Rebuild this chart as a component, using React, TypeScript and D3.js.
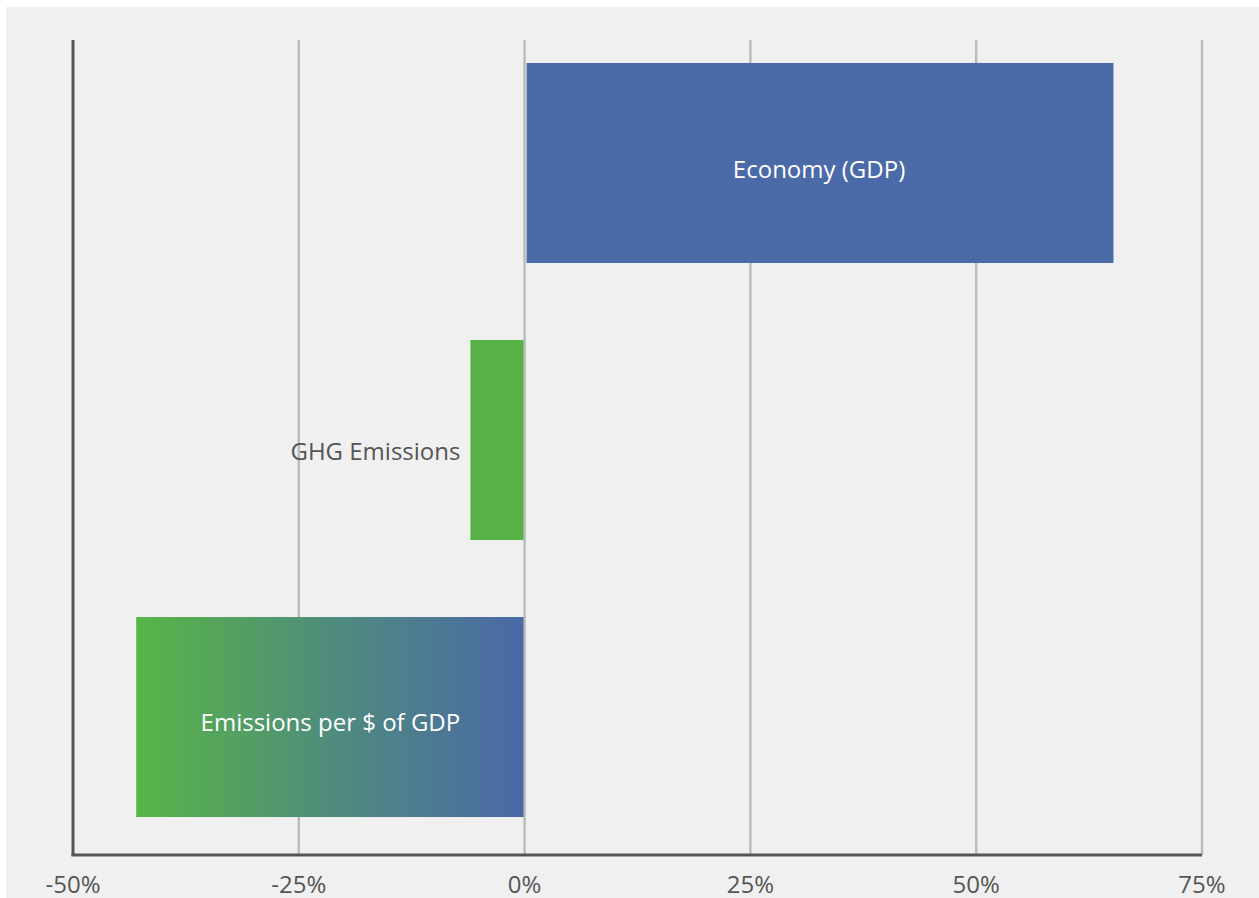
import React from "react";
import * as d3 from "d3";

const categories = ["Economy (GDP)", "GHG Emissions", "Emissions per $ of GDP"];
const values = [65.2, -6, -43];
const tickValues = [-50, -25, 0, 25, 50, 75];
const tickLabels = ["-50%", "-25%", "0%", "25%", "50%", "75%"];

const W = 1259;
const H = 898;
const FONT = "'Open Sans', 'Noto Sans', sans-serif";

export default function App() {
  const x = d3.scaleLinear().domain([-50, 75]).range([73, 1202]);
  const y = d3
    .scaleBand<string>()
    .domain(categories)
    .range([40, 855])
    .paddingInner(0.278)
    .paddingOuter(0.11)
    .align(0.377);
  const bw = y.bandwidth();
  const top = 40;
  const bottom = 855;
  const labelShift = [7, 12, 6];

  return (
    <svg
      width={W}
      height={H}
      style={{ position: "absolute", left: 0, top: 0, display: "block" }}
    >
      <defs>
        <linearGradient id="grad" x1="0" x2="1" y1="0" y2="0">
          <stop offset="0" stopColor="#58b546" />
          <stop offset="0.5" stopColor="#4f8c7c" />
          <stop offset="1" stopColor="#4a69a7" />
        </linearGradient>
      </defs>
      <rect x={6} y={7} width={W - 6} height={H - 7} fill="#f0f0f0" />
      {tickValues.slice(1).map((t) => (
        <line
          key={t}
          x1={x(t)}
          x2={x(t)}
          y1={top}
          y2={bottom}
          stroke="#bcbcbc"
          strokeWidth={2.5}
        />
      ))}
      {categories.map((c, i) => {
        const v = values[i];
        const x0 = Math.min(x(0), x(v));
        const x1 = Math.max(x(0), x(v));
        const fill = i === 0 ? "#4a6aa8" : i === 1 ? "#58b247" : "url(#grad)";
        return (
          <rect
            key={c}
            x={v >= 0 ? x0 + 2 : x0}
            y={y(c)}
            width={v >= 0 ? x1 - x0 - 2 : x1 - x0 - 1}
            height={bw}
            fill={fill}
          />
        );
      })}
      {categories.map((c, i) => {
        const v = values[i];
        const cy = (y(c) as number) + bw / 2 + labelShift[i];
        if (i === 1) {
          return (
            <text
              key={c}
              x={x(v) - 10}
              y={cy}
              dy="0.35em"
              textAnchor="end"
              fontFamily={FONT}
              fontSize={24}
              fill="#555555"
            >
              {c}
            </text>
          );
        }
        return (
          <text
            key={c}
            x={(x(0) + x(v)) / 2}
            y={cy}
            dy="0.35em"
            textAnchor="middle"
            fontFamily={FONT}
            fontSize={24}
            fill="#ffffff"
          >
            {c}
          </text>
        );
      })}
      <line x1={x(-50)} x2={x(-50)} y1={top} y2={bottom + 1} stroke="#555555" strokeWidth={3} />
      <line x1={x(-50) - 1.5} x2={x(75)} y1={bottom} y2={bottom} stroke="#555555" strokeWidth={3} />
      {tickValues.map((t, i) => (
        <text
          key={t}
          x={x(t)}
          y={893}
          textAnchor="middle"
          fontFamily={FONT}
          fontSize={24}
          fill="#555555"
        >
          {tickLabels[i]}
        </text>
      ))}
    </svg>
  );
}
